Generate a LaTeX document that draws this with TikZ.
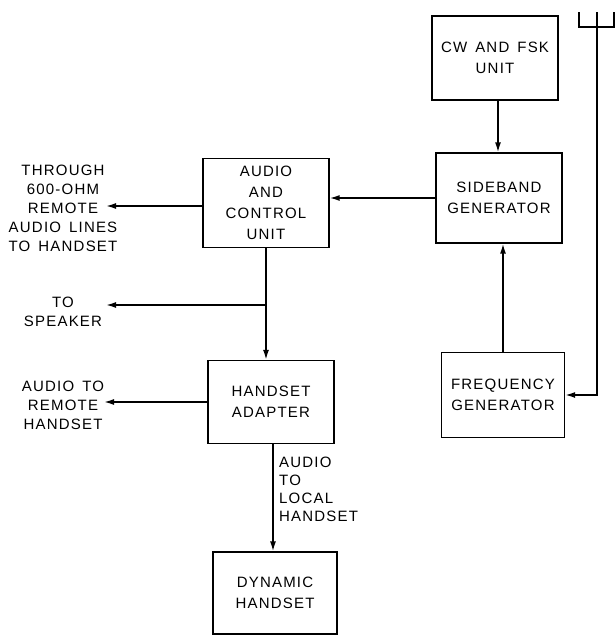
\documentclass[tikz,border=0pt]{standalone}
\usepackage{fontspec}
\setmainfont{Liberation Sans}[LetterSpace=8,WordSpace=1.5]
\usetikzlibrary{arrows.meta}

\tikzset{
  unit/.style={draw, line width=1.3pt, minimum width=126pt, minimum height=86pt,
    align=center, font=\fontsize{15}{21}\selectfont},
  note/.style={align=center, inner sep=0pt, font=\fontsize{15}{19}\selectfont},
  feed/.style={line width=1.6pt, -{Latex[length=10pt,width=6pt]}}
}

\begin{document}
\begin{tikzpicture}[x=1pt,y=-1pt]
\useasboundingbox (0,0) rectangle (616,635);

% Define units
\node[unit, minimum height=84pt] (cw) at (495,58) {CW AND FSK\\UNIT};
\node[unit, minimum height=90pt] (sideband) at (499,198) {SIDEBAND\\GENERATOR};
\node[unit, minimum width=123pt, minimum height=85pt] (freq) at (503,395) {FREQUENCY\\GENERATOR};
\node[unit, minimum height=89pt] (audio) at (266,203) {AUDIO\\AND\\CONTROL\\UNIT};
\node[unit, minimum height=83pt] (adapter) at (271,402) {HANDSET\\ADAPTER};
\node[unit, minimum width=124pt, minimum height=82pt] (dynamic) at (275,593) {DYNAMIC\\HANDSET};

% Define labels
\node[note] (through) at (63,208) {THROUGH\\600-OHM\\REMOTE\\AUDIO LINES\\TO HANDSET};
\node[note] (speaker) at (63,312) {TO\\SPEAKER};
\node[note] (remote) at (63,405) {AUDIO TO\\REMOTE\\HANDSET};
\node[note, align=left, anchor=north west, font=\fontsize{15}{18}\selectfont] (local) at (279,457) {AUDIO\\TO\\LOCAL\\HANDSET};

% Define line ends
\coordinate (remoteend) at (106,206); % Audio lines out
\coordinate (speakerend) at (106,305); % Speaker out
\coordinate (handsetend) at (104,402); % Remote handset out
\coordinate (split) at (audio.south |- speakerend); % Branch to speaker
\coordinate (mast) at (597,27); % Foot of the antenna fork

% Draw connectors
\draw[feed] ([xshift=3pt]cw.south) -- ([xshift=3pt]cw.south |- sideband.north);
\draw[feed] (sideband.west) -- (sideband.west -| audio.east);
\draw[feed] (audio.west |- remoteend) -- (remoteend);
\draw[feed] (audio.south) -- (audio.south |- adapter.north);
\draw[feed] (split) -- (speakerend);
\draw[feed] (adapter.west |- handsetend) -- (handsetend);
\draw[feed] ([xshift=2pt]adapter.south) -- ([xshift=2pt]adapter.south |- dynamic.north);
\draw[feed] (freq.north) -- (freq.north |- sideband.south);
\draw[feed] (mast) -- (mast |- freq.east) -- (freq.east);

% Draw antenna
\draw[line width=1.6pt] (579,12) |- (614,27) -- (614,12);
\draw[line width=1.6pt] (mast) -- (597,12);

\end{tikzpicture}
\end{document}
